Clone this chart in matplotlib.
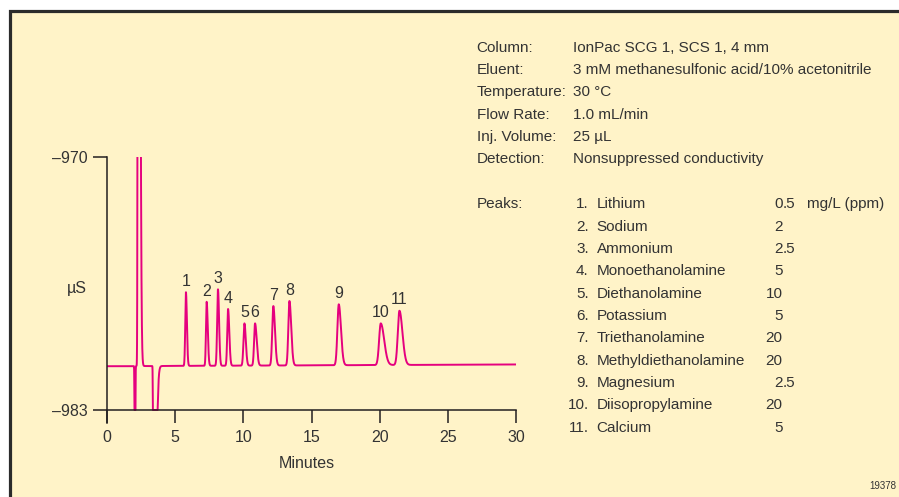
import numpy as np
import matplotlib
matplotlib.use("Agg")
import matplotlib.pyplot as plt
from matplotlib.patches import Rectangle

plt.rcParams['font.family'] = ['Liberation Sans', 'DejaVu Sans']

# datos del cromatograma
peak_num = [1, 2, 3, 4, 5, 6, 7, 8, 9, 10, 11]
peak_time = [5.79, 7.31, 8.14, 8.88, 10.08, 10.86, 12.20, 13.38, 17.00, 20.08, 21.45]
peak_top = [-976.95, -977.44, -976.80, -977.81, -978.55, -978.55,
            -977.66, -977.40, -977.57, -978.55, -977.90]
peak_sig_l = [0.05, 0.05, 0.06, 0.06, 0.07, 0.07, 0.08, 0.08, 0.10, 0.12, 0.12]
peak_sig_r = [0.07, 0.08, 0.08, 0.09, 0.10, 0.12, 0.12, 0.13, 0.16, 0.25, 0.22]

# picos del sistema (dip, pico de inyeccion, dip)
sys_time = [2.05, 2.29, 3.40]
sys_amp = [-20.0, 80.0, -20.0]
sys_sig_l = [0.02, 0.03, 0.02]
sys_sig_r = [0.02, 0.10, 0.15]

base_start = -980.75
base_end = -980.66

cond_labels = ["Column:", "Eluent:", "Temperature:", "Flow Rate:", "Inj. Volume:", "Detection:"]
cond_values = ["IonPac SCG 1, SCS 1, 4 mm",
               "3 mM methanesulfonic acid/10% acetonitrile",
               "30 \u00b0C", "1.0 mL/min", "25 \u00b5L",
               "Nonsuppressed conductivity"]
peak_names = ["Lithium", "Sodium", "Ammonium", "Monoethanolamine", "Diethanolamine",
              "Potassium", "Triethanolamine", "Methyldiethanolamine", "Magnesium",
              "Diisopropylamine", "Calcium"]
peak_conc = ["0.5", "2", "2.5", "5", "10", "5", "20", "20", "2.5", "20", "5"]

W, H = 899, 497
pink = '#E5007E'
txt = '#333333'
axc = '#231F20'

def fx(px):
    return px / W

def fy(py):
    return 1 - py / H

def shape(t, t0, sl, sr):
    s = np.where(t < t0, sl, sr)
    return np.exp(-0.5 * ((t - t0) / s) ** 2)

t = np.linspace(0, 30, 12001)
base = base_start + (base_end - base_start) * t / 30.0
sig = base.copy()
for t0, a, sl, sr in zip(sys_time, sys_amp, sys_sig_l, sys_sig_r):
    sig += a * shape(t, t0, sl, sr)
for t0, top, sl, sr in zip(peak_time, peak_top, peak_sig_l, peak_sig_r):
    h = top - (base_start + (base_end - base_start) * t0 / 30.0)
    sig += h * shape(t, t0, sl, sr)
sig = np.clip(sig, -983, None)

fig = plt.figure(figsize=(W / 100, H / 100), dpi=100)
fig.patch.set_facecolor('white')
fig.patches.append(Rectangle((fx(10), -0.2), 1.5, fy(11) + 0.2, transform=fig.transFigure,
                             facecolor='#FFF3C8', edgecolor='#2B2B2B', linewidth=2.3,
                             zorder=-5))

ylo = -983 - 13 / 19.46
ax = fig.add_axes([fx(107), fy(423), fx(516) - fx(107), fy(157) - fy(423)])
ax.patch.set_alpha(0)
ax.plot(t, sig, color=pink, lw=1.4)
ax.set_xlim(0, 30)
ax.set_ylim(ylo, -970)

for s in ['top', 'right']:
    ax.spines[s].set_visible(False)
ax.spines['bottom'].set_position(('data', -983))
for s in ['left', 'bottom']:
    ax.spines[s].set_color(axc)
    ax.spines[s].set_linewidth(1.1)

ax.set_xticks([0, 5, 10, 15, 20, 25, 30])
ax.set_yticks([-970, -983])
ax.set_yticklabels(['\u2013970', '\u2013983'])
ax.tick_params(axis='x', direction='out', length=9.5, width=1.1, color=axc,
               labelsize=11.5, labelcolor=txt, pad=5)
ax.tick_params(axis='y', direction='out', length=10, width=1.1, color=axc,
               labelsize=11.5, labelcolor=txt, pad=4)

for n, t0, top in zip(peak_num, peak_time, peak_top):
    ax.annotate(str(n), (t0, top), xytext=(0, 4.5), textcoords='offset points',
                ha='center', va='baseline', fontsize=11.5, color=txt)

fig.text(fx(76.5), fy(288), '\u00b5S', ha='center', va='center', fontsize=11.5, color=txt)
fig.text(fx(307), fy(463), 'Minutes', ha='center', va='center', fontsize=11.5, color=txt)

fs = 11
for i, (lab, val) in enumerate(zip(cond_labels, cond_values)):
    yb = fy(51.7 + 22.3 * i)
    fig.text(fx(476.7), yb, lab, ha='left', va='baseline', fontsize=fs, color=txt)
    fig.text(fx(572.7), yb, val, ha='left', va='baseline', fontsize=fs, color=txt)

fig.text(fx(476.7), fy(208.3), 'Peaks:', ha='left', va='baseline', fontsize=fs, color=txt)
for i, (n, name, c) in enumerate(zip(peak_num, peak_names, peak_conc)):
    yb = fy(208.3 + 22.34 * i)
    fig.text(fx(588.7), yb, f'{n}.', ha='right', va='baseline', fontsize=fs, color=txt)
    fig.text(fx(596.7), yb, name, ha='left', va='baseline', fontsize=fs, color=txt)
    ent, _, dec = c.partition('.')
    fig.text(fx(782.5), yb, ent, ha='right', va='baseline', fontsize=fs, color=txt)
    if dec:
        fig.text(fx(782.5), yb, '.' + dec, ha='left', va='baseline', fontsize=fs, color=txt)
fig.text(fx(806.7), fy(208.3), 'mg/L (ppm)', ha='left', va='baseline', fontsize=fs, color=txt)

fig.text(fx(896), fy(489), '19378', ha='right', va='baseline', fontsize=7, color=txt)

fig.savefig('out.png', dpi=100)
